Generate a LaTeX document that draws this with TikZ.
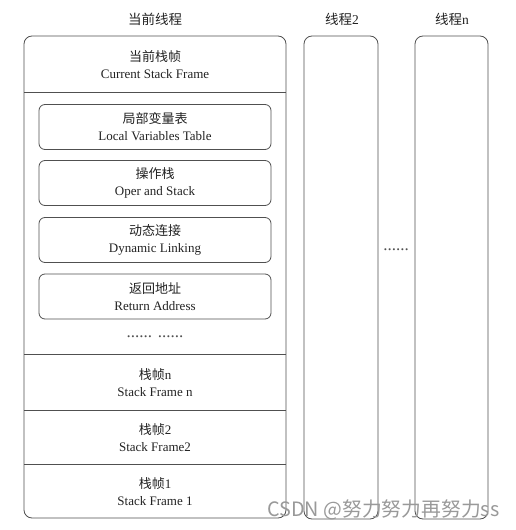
\documentclass[tikz,border=0pt]{standalone}
\usepackage{fontspec}
\setmainfont{Liberation Serif}
\newfontfamily\cjk{Noto Sans CJK SC}
\definecolor{linec}{HTML}{505050}
\definecolor{textc}{HTML}{222222}
\definecolor{wmark}{HTML}{999999}
\begin{document}
\begin{tikzpicture}[x=1pt,y=-1pt,
  every node/.style={font=\fontsize{13}{17}\selectfont, text=textc, align=center, inner sep=0pt},
  outerbox/.style={draw=linec, line width=0.8pt, rounded corners=8pt},
  innerbox/.style={draw=linec, line width=0.8pt, rounded corners=6pt, minimum width=232pt, minimum height=45pt},
  sep/.style={draw=linec, line width=0.8pt},
  title/.style={font=\fontsize{13.5}{17}\selectfont},
  dotsty/.style={font=\fontsize{17}{17}\selectfont, text=linec}
]
\useasboundingbox (0,0) rectangle (515,530);
% titles
\node[title] (t1) at (155,19) {\cjk 当前线程};
\node[title] (t2) at (342,19) {{\cjk 线程}2};
\node[title] (tn) at (452,19) {{\cjk 线程}n};
% outer boxes
\draw[outerbox] (24,36) rectangle (286,518);
\draw[outerbox] (304,36) rectangle (378,519);
\draw[outerbox] (415,36) rectangle (488,519);
% separators
\draw[sep] (24,92) -- (286,92);
\draw[sep] (24,354) -- (286,354);
\draw[sep] (24,410) -- (286,410);
\draw[sep] (24,464) -- (286,464);
% current frame
\node (cur) at (155,65) {{\cjk 当前栈帧}\\Current Stack Frame};
% inner boxes
\node[innerbox] (lvt) at (155,127) {{\cjk 局部变量表}\\Local Variables Table};
\node[innerbox] (ops) at (155,183) {{\cjk 操作栈}\\Oper and Stack};
\node[innerbox] (dyn) at (155,240) {{\cjk 动态连接}\\Dynamic Linking};
\node[innerbox] (ret) at (155,296.5) {{\cjk 返回地址}\\Return Address};
\node[dotsty] (dots1) at (155,337) {...... ......};
% frames
\node (fn) at (155,383) {{\cjk 栈帧}n\\Stack Frame n};
\node (f2) at (155,438) {{\cjk 栈帧}2\\Stack Frame2};
\node (f1) at (155,492) {{\cjk 栈帧}1\\Stack Frame 1};
% dots between threads
\node[dotsty] (dots2) at (396,250) {......};
% watermark
\node[anchor=west, text=wmark, font=\cjk\fontsize{19.8}{20}\selectfont] (wm) at (267,510) {CSDN @努力努力再努力ss};
\end{tikzpicture}
\end{document}
